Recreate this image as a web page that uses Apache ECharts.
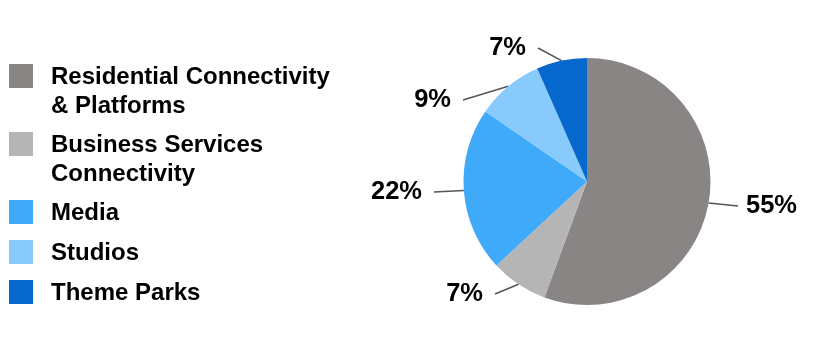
<!DOCTYPE html>
<html>
<head>
<meta charset="utf-8">
<script src="https://cdn.jsdelivr.net/npm/echarts@6/dist/echarts.min.js"></script>
<style>
  html, body { margin: 0; padding: 0; background: #fff; }
  #chart { width: 814px; height: 364px; }
</style>
</head>
<body>
<div id="chart"></div>
<script>
// ---- data ----
const categories = [
  'Residential Connectivity & Platforms',
  'Business Services Connectivity',
  'Media',
  'Studios',
  'Theme Parks'
];
// slice sizes (share of total, %)
const shares = [55.6, 7.5, 21.5, 8.8, 6.6];
// percentage labels as printed on the chart
const percentLabels = ['55%', '7%', '22%', '9%', '7%'];

// ---- styling / layout config ----
const colors = ['#898584', '#b5b5b5', '#3faafa', '#88cafc', '#0668cc'];
const FONT = '"Liberation Sans", Arial, Helvetica, sans-serif';
const CX = 587, CY = 181.5, R = 123.5;
// where each label line ends, relative to the pie centre (px)
const labelLineEnds = [[151, 24.5], [-92, 112.5], [-153, 10.5], [-124, -81.5], [-49, -133.5]];
const legendTops = [64, 132, 200, 240, 280];

const chart = echarts.init(document.getElementById('chart'), null, { renderer: 'canvas' });

const legendGraphics = [];
categories.forEach((name, i) => {
  legendGraphics.push({
    type: 'rect', left: 9, top: legendTops[i],
    shape: { width: 24, height: 24 },
    style: { fill: colors[i] }, silent: true
  });
  legendGraphics.push({
    type: 'text', left: 51, top: legendTops[i] - 1.5,
    style: {
      text: name, width: 295, overflow: 'break',
      font: 'bold 24px ' + FONT, lineHeight: 29, fill: '#000'
    }, silent: true
  });
});

chart.setOption({
  animation: false,
  backgroundColor: '#fff',
  graphic: legendGraphics,
  series: [{
    type: 'pie',
    center: [CX, CY],
    radius: R,
    startAngle: 90,
    clockwise: true,
    avoidLabelOverlap: false,
    silent: true,
    emphasis: { disabled: true },
    itemStyle: { borderWidth: 0 },
    data: categories.map((name, i) => ({
      name, value: shares[i], itemStyle: { color: colors[i] }
    })),
    label: {
      show: true,
      position: 'outside',
      formatter: (p) => percentLabels[p.dataIndex],
      fontFamily: FONT,
      fontWeight: 'bold',
      fontSize: 25.5,
      color: '#000'
    },
    labelLine: {
      show: true, length: 10, length2: 0,
      lineStyle: { color: '#555', width: 1.5 }
    },
    labelLayout: function (params) {
      const e = labelLineEnds[params.dataIndex];
      const ex = CX + e[0], ey = CY + e[1];
      const right = e[0] > 0;
      const start = params.labelLinePoints ? params.labelLinePoints[0] : [ex, ey];
      return {
        x: right ? ex + 8 : ex - 12,
        y: ey,
        align: right ? 'left' : 'right',
        verticalAlign: 'middle',
        labelLinePoints: [start, [ex, ey], [ex, ey]]
      };
    }
  }]
});
</script>
</body>
</html>
